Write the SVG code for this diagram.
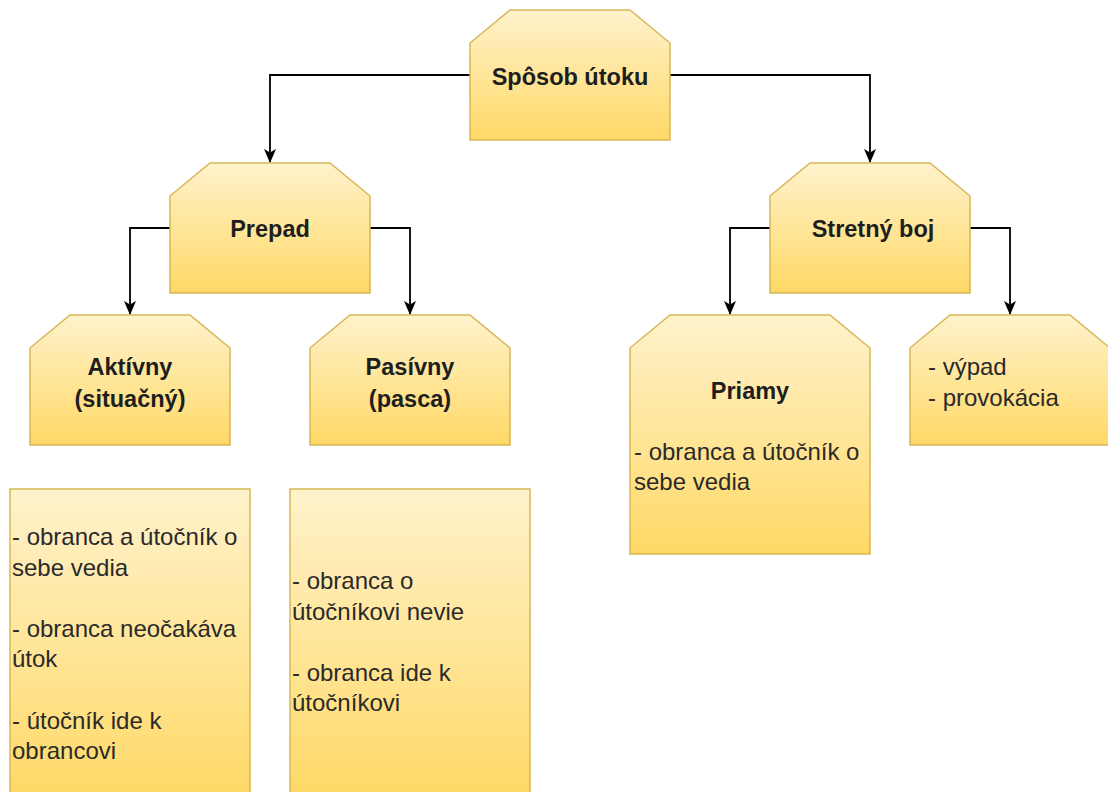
<svg xmlns="http://www.w3.org/2000/svg" width="1108" height="792" viewBox="0 0 1108 792">
<defs>
<linearGradient id="g" x1="0" y1="0" x2="0" y2="1">
<stop offset="0" stop-color="#FFF2CC"/>
<stop offset="1" stop-color="#FFD966"/>
</linearGradient>
<marker id="arr" viewBox="0 0 14 12" refX="13" refY="6" markerWidth="14" markerHeight="12" markerUnits="userSpaceOnUse" orient="auto">
<path d="M0,0 L14,6 L0,12 L3.5,6 Z" fill="#000"/>
</marker>
<style>
.n{fill:url(#g);stroke:#D6B656;stroke-width:1.5}
.t{font-family:"Liberation Sans",Arial,sans-serif;font-size:23.5px;font-weight:bold;fill:#1e1e1e;text-anchor:middle}
.r{font-family:"Liberation Sans",Arial,sans-serif;font-size:24px;fill:#2a2a2a}
.c{fill:none;stroke:#000;stroke-width:1.8;marker-end:url(#arr)}
</style>
</defs>
<g id="connectors">
<path class="c" d="M470,75 H270 V162"/>
<path class="c" d="M670,75 H870 V162"/>
<path class="c" d="M170,228 H130 V314"/>
<path class="c" d="M370,228 H410 V314"/>
<path class="c" d="M770,228 H730 V314"/>
<path class="c" d="M970,228 H1010 V314"/>
</g>
<g id="n-sposob">
<path class="n" d="M510,10 H630 L670,43 V140 H470 V43 Z"/>
<text class="t" x="570" y="85">Spôsob útoku</text>
</g>
<g id="n-prepad">
<path class="n" d="M210,163 H330 L370,196 V293 H170 V196 Z"/>
<text class="t" x="270" y="237">Prepad</text>
</g>
<g id="n-stretny">
<path class="n" d="M810,163 H930 L970,196 V293 H770 V196 Z"/>
<text class="t" x="873" y="237">Stretný boj</text>
</g>
<g id="n-aktivny">
<path class="n" d="M70,315 H190 L230,348 V445 H30 V348 Z"/>
<text class="t" x="130" y="375">Aktívny</text>
<text class="t" x="130" y="407">(situačný)</text>
</g>
<g id="n-pasivny">
<path class="n" d="M350,315 H470 L510,348 V445 H310 V348 Z"/>
<text class="t" x="410" y="375">Pasívny</text>
<text class="t" x="410" y="407">(pasca)</text>
</g>
<g id="n-priamy">
<path class="n" d="M670,315 H830 L870,348 V554 H630 V348 Z"/>
<text class="t" x="750" y="399">Priamy</text>
<text class="r" x="634" y="460">- obranca a útočník o</text>
<text class="r" x="634" y="490">sebe vedia</text>
</g>
<g id="n-vypad">
<path class="n" d="M950,315 H1070 L1110,348 V445 H910 V348 Z"/>
<text class="r" x="928" y="375">- výpad</text>
<text class="r" x="928" y="406">- provokácia</text>
</g>
<g id="n-aktivny-popis">
<rect class="n" x="10" y="489" width="240" height="310"/>
<text class="r" x="12" y="545">- obranca a útočník o</text>
<text class="r" x="12" y="575.6">sebe vedia</text>
<text class="r" x="12" y="636.8">- obranca neočakáva</text>
<text class="r" x="12" y="667.4">útok</text>
<text class="r" x="12" y="728.6">- útočník ide k</text>
<text class="r" x="12" y="759.2">obrancovi</text>
</g>
<g id="n-pasivny-popis">
<rect class="n" x="290" y="489" width="240" height="310"/>
<text class="r" x="292" y="589">- obranca o</text>
<text class="r" x="292" y="619.6">útočníkovi nevie</text>
<text class="r" x="292" y="680.8">- obranca ide k</text>
<text class="r" x="292" y="711.4">útočníkovi</text>
</g>
</svg>
